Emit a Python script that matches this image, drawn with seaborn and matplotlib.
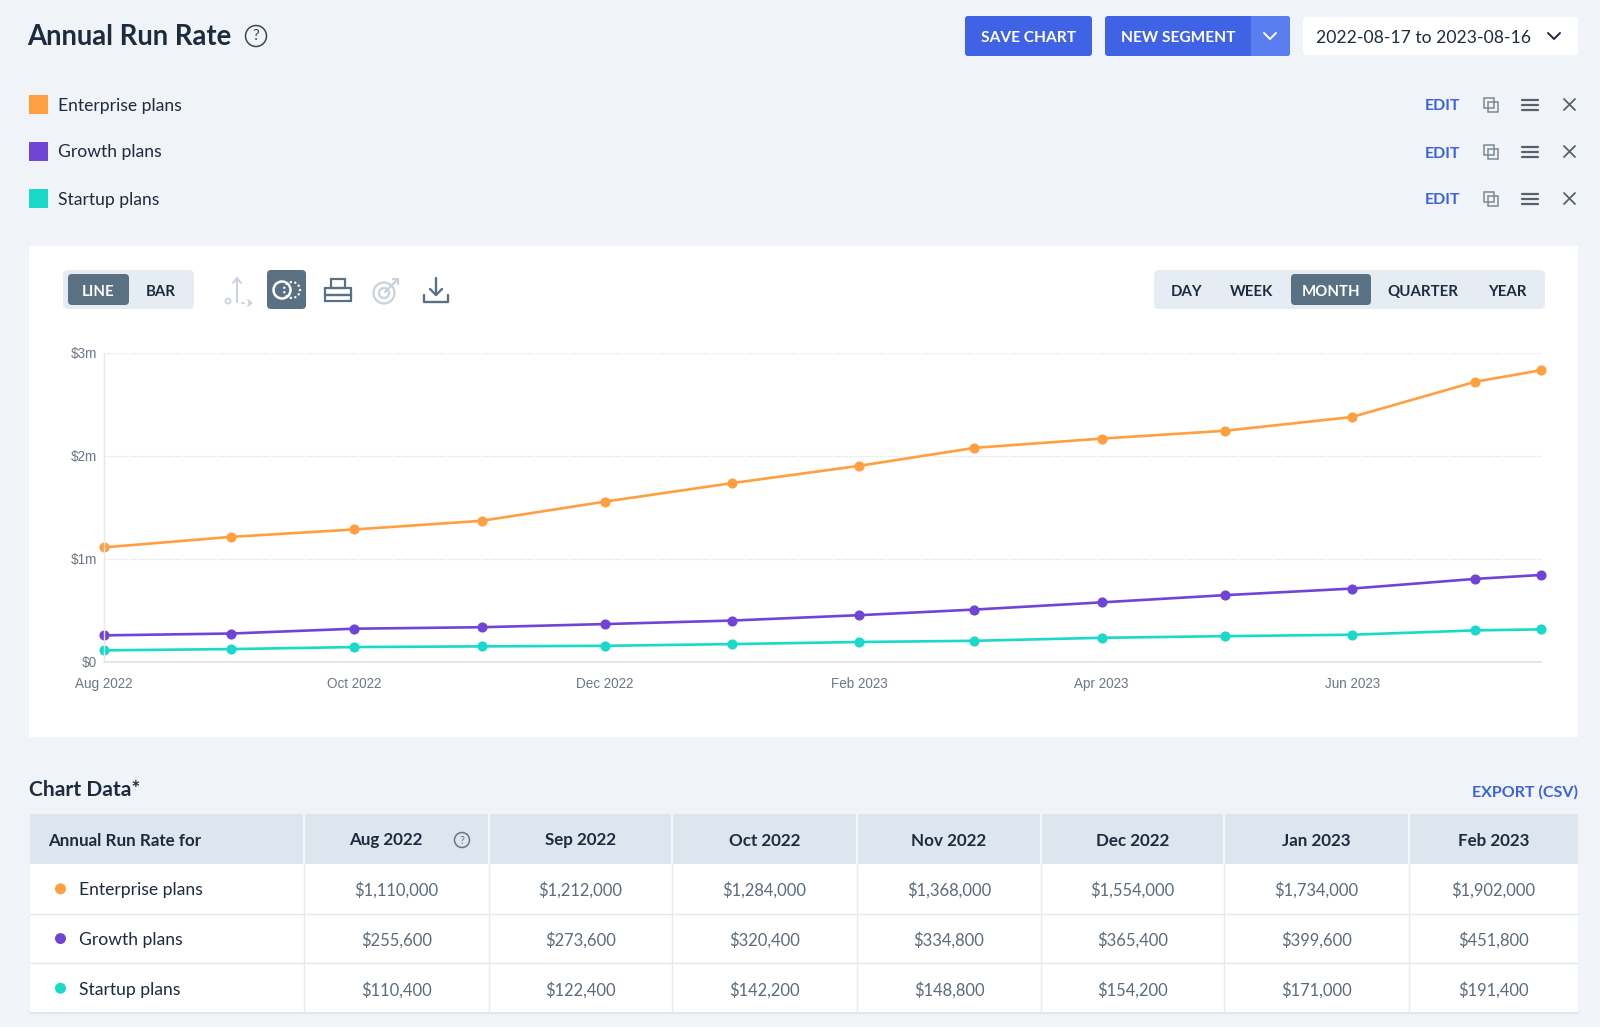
import numpy as np
import pandas as pd
import matplotlib
matplotlib.use("Agg")
import matplotlib.pyplot as plt
from matplotlib.patches import FancyBboxPatch, Rectangle, Circle
import seaborn as sns

# ---------------- data ----------------
dates = ["2022-08-01", "2022-09-01", "2022-10-01", "2022-11-01", "2022-12-01",
         "2023-01-01", "2023-02-01", "2023-03-01", "2023-04-01", "2023-05-01",
         "2023-06-01", "2023-07-01", "2023-07-17"]
enterprise = [1110000, 1212000, 1284000, 1368000, 1554000, 1734000, 1902000,
              2076000, 2166000, 2242000, 2376000, 2718000, 2830000]
growth = [255600, 273600, 320400, 334800, 365400, 399600, 451800,
          506000, 576000, 646000, 710000, 804000, 842000]
startup = [110400, 122400, 142200, 148800, 154200, 171000, 191400,
           203000, 232000, 248000, 262000, 304000, 314000]
series_names = ["Enterprise plans", "Growth plans", "Startup plans"]
series_colors = ["#FF9F40", "#7044D4", "#19D9C8"]
table_months = ["Aug 2022", "Sep 2022", "Oct 2022", "Nov 2022", "Dec 2022",
                "Jan 2023", "Feb 2023"]
y_ticks = [0, 1000000, 2000000, 3000000]
y_tick_labels = ["$0", "$1m", "$2m", "$3m"]
x_tick_dates = ["2022-08-01", "2022-10-01", "2022-12-01", "2023-02-01",
                "2023-04-01", "2023-06-01"]
x_tick_labels = ["Aug 2022", "Oct 2022", "Dec 2022", "Feb 2023", "Apr 2023", "Jun 2023"]
periods = ["DAY", "WEEK", "MONTH", "QUARTER", "YEAR"]

# ---------------- style ----------------
sns.set_theme(style="white")
UI = ["Lato", "DejaVu Sans"]
AX = ["Liberation Sans", "DejaVu Sans"]
plt.rcParams["font.family"] = UI

W, H = 1600, 1027
PX = 72 / 100.0  # px -> pt

BG = "#F0F4F8"
DARK = "#1C2B3E"
GRAY = "#5B6B7B"
SLATE = "#5A7184"
BLUE = "#3F63E4"
BLUE2 = "#5A7DF0"
LINK = "#3A63D8"
LIGHTICON = "#C9D2DB"

fig = plt.figure(figsize=(16, 10.27), dpi=100)
fig.patch.set_facecolor(BG)
bg = fig.add_axes([0, 0, 1, 1])
bg.set_xlim(0, W)
bg.set_ylim(H, 0)
bg.axis("off")
bg.set_zorder(0)


def rbox(x0, y0, x1, y1, color, r=4, ec="none", lw=0, z=1):
    p = FancyBboxPatch((x0 + r, y0 + r), (x1 - x0) - 2 * r, (y1 - y0) - 2 * r,
                       boxstyle=f"round,pad={r}", fc=color, ec=ec, lw=lw, zorder=z)
    bg.add_patch(p)


def txt(x, y, s, size, color=DARK, weight="normal", ha="left", va="center", fam=UI, z=5, dy=2):
    bg.text(x, y + dy, s, fontsize=size * PX, color=color, fontweight=weight,
            ha=ha, va=va, family=fam, zorder=z)


def help_icon(x, y, r=9, color="#3A4656"):
    bg.add_patch(Circle((x, y), r, fc="none", ec=color, lw=1.1, zorder=5))
    txt(x, y + 0.5, "?", r * 1.45, color=color, ha="center", dy=0)


# ---------------- header ----------------
txt(27, 35, "Annual Run Rate", 27.5, weight="bold")
help_icon(256, 36, r=10.5)

rbox(965, 16, 1092, 56, BLUE, r=3)
txt(1028.5, 36, "SAVE CHART", 15.5, color="white", weight="bold", ha="center")
rbox(1105, 16, 1290, 56, BLUE, r=3)
bg.add_patch(Rectangle((1251, 16), 36, 40, fc=BLUE2, ec="none", zorder=1.5))
rbox(1270, 16, 1290, 56, BLUE2, r=3, z=1.4)
txt(1178, 36, "NEW SEGMENT", 15.5, color="white", weight="bold", ha="center")
bg.plot([1264, 1270, 1276], [33, 39, 33], color="white", lw=1.4, zorder=6)
rbox(1303, 17, 1578, 55, "white", r=3)
txt(1316, 36, "2022-08-17 to 2023-08-16", 17.5)
bg.plot([1548, 1554, 1560], [33, 39, 33], color=DARK, lw=1.4, zorder=6)

# legend rows
for i, (name, col) in enumerate(zip(series_names, series_colors)):
    yc = 103.5 + i * 47
    bg.add_patch(Rectangle((28.5, yc - 8.5), 19, 19, fc=col, ec="none", zorder=3))
    txt(58, yc, name, 17.5)
    txt(1443, yc + 1, "EDIT", 16, color=LINK, weight="bold", ha="center")
    bg.add_patch(Rectangle((1484, yc - 6), 10, 10, fc="none", ec="#7C8894", lw=1.1, zorder=5))
    bg.add_patch(Rectangle((1488, yc - 2), 10, 10, fc="none", ec="#7C8894", lw=1.1, zorder=5))
    for d in (-4, 1, 6):
        bg.plot([1522, 1538], [yc + d, yc + d], color="#56616D", lw=1.6, zorder=5)
    bg.plot([1564, 1575], [yc - 4.5, yc + 6.5], color="#56616D", lw=1.3, zorder=5)
    bg.plot([1564, 1575], [yc + 6.5, yc - 4.5], color="#56616D", lw=1.3, zorder=5)

# ---------------- chart card ----------------
bg.add_patch(Rectangle((29, 246), 1549, 491, fc="white", ec="none", zorder=0.5))

# line / bar toggle
rbox(63, 270, 194, 309, "#E5ECF3", r=5)
rbox(68, 274, 129, 305, SLATE, r=4, z=2)
txt(98.5, 290, "LINE", 15, color="white", weight="bold", ha="center")
txt(161, 290, "BAR", 15, color=DARK, weight="bold", ha="center")

# axis icon (disabled)
bg.plot([237, 237], [302, 279], color=LIGHTICON, lw=1.4, zorder=5)
bg.plot([233, 237, 241], [283, 278, 283], color=LIGHTICON, lw=1.4, zorder=5)
bg.add_patch(Circle((228, 301), 2.5, fc="none", ec=LIGHTICON, lw=1.3, zorder=5))
bg.plot([241, 251], [303, 303], color=LIGHTICON, lw=1.3, ls=(0, (2, 2)), zorder=5)
bg.plot([248, 251.5, 248], [300, 303, 306], color=LIGHTICON, lw=1.3, zorder=5)

# active compare icon
rbox(267, 270, 306, 309, SLATE, r=4)
bg.add_patch(Circle((282, 290), 8.5, fc="none", ec="white", lw=1.8, zorder=6))
for ang in np.linspace(0, 2 * np.pi, 11, endpoint=False):
    bg.add_patch(Circle((292 + 8 * np.cos(ang), 290 + 8 * np.sin(ang)), 1.2,
                        fc="white", ec="none", zorder=6))

# stacked / printer icon
bg.add_patch(Rectangle((331, 279), 14, 9, fc="none", ec=SLATE, lw=1.6, zorder=5))
bg.add_patch(Rectangle((325, 288), 26, 7, fc="none", ec=SLATE, lw=1.6, zorder=5))
bg.add_patch(Rectangle((325, 295), 26, 6, fc="none", ec=SLATE, lw=1.6, zorder=5))

# target icon (disabled)
bg.add_patch(Circle((384, 293), 10.5, fc="none", ec=LIGHTICON, lw=1.6, zorder=5))
bg.add_patch(Circle((384, 293), 5, fc="none", ec=LIGHTICON, lw=1.6, zorder=5))
bg.plot([385, 396], [292, 281], color=LIGHTICON, lw=1.6, zorder=5)
bg.plot([393, 398, 398], [279, 279, 284], color=LIGHTICON, lw=1.6, zorder=5)

# download icon
bg.plot([436, 436], [278, 295], color=SLATE, lw=1.7, zorder=5)
bg.plot([430, 436, 442], [289, 295, 289], color=SLATE, lw=1.7, zorder=5)
bg.plot([424, 424, 448, 448], [295, 302, 302, 295], color=SLATE, lw=1.7, zorder=5)

# period selector
rbox(1154, 270, 1545, 309, "#E5ECF3", r=5)
rbox(1291, 274, 1371, 305, SLATE, r=4, z=2)
for lab, xc in zip(periods, [1187, 1252, 1331, 1423, 1507]):
    txt(xc, 290, lab, 15, color="white" if lab == "MONTH" else DARK,
        weight="bold", ha="center")

# ---------------- line chart (seaborn) ----------------
df = pd.DataFrame({
    "date": pd.to_datetime(dates * 3),
    "value": enterprise + growth + startup,
    "plan": sum([[n] * len(dates) for n in series_names], []),
})

ax_left, ax_right, ax_top, ax_bot = 104, 1541, 352.7, 661.7
ax = fig.add_axes([ax_left / W, 1 - ax_bot / H, (ax_right - ax_left) / W,
                   (ax_bot - ax_top) / H])
ax.set_zorder(2)
ax.set_facecolor("none")
sns.lineplot(data=df, x="date", y="value", hue="plan", hue_order=series_names,
             palette=series_colors, marker="o", markersize=7.3, markeredgewidth=0,
             linewidth=1.9, ax=ax, legend=False, clip_on=False)
ax.set_xlim(pd.to_datetime(dates[0]), pd.to_datetime(dates[-1]))
ax.set_ylim(0, 3000000)
ax.set_yticks(y_ticks)
ax.set_yticklabels(y_tick_labels, family=AX, fontsize=13.5 * PX, color="#6B7785")
ax.set_xticks(pd.to_datetime(x_tick_dates))
ax.set_xticklabels(x_tick_labels, family=AX, fontsize=13.5 * PX, color="#6B7785")
ax.tick_params(axis="y", length=0, pad=5)
ax.tick_params(axis="x", length=0, pad=11)
ax.set_xlabel("")
ax.set_ylabel("")
for y in y_ticks[1:]:
    ax.axhline(y, color="#DADDE2", lw=0.9, ls=(0, (1, 1.2)), zorder=0)
for s in ["top", "right"]:
    ax.spines[s].set_visible(False)
ax.spines["left"].set_color("#E6E9EE")
ax.spines["left"].set_linewidth(1.0)
ax.spines["bottom"].set_color("#E3E7EC")
ax.spines["bottom"].set_linewidth(1.4)
ax.grid(False)

# ---------------- chart data table ----------------
txt(29, 788, "Chart Data*", 21, weight="bold")
txt(1578, 790, "EXPORT (CSV)", 16, color=LINK, weight="bold", ha="right")

tx0, tx1 = 29.5, 1578
col_edges = [tx0, 304, 489, 672, 857, 1041, 1224, 1409, tx1]
hy0, hy1 = 814, 864
row_h = 49.7
bg.add_patch(Rectangle((tx0, hy0), tx1 - tx0, hy1 - hy0, fc="#DDE5EE", ec="none", zorder=1))
bg.add_patch(Rectangle((tx0, hy1), tx1 - tx0, row_h * 3, fc="white", ec="none", zorder=1))
for i in range(1, 3):
    yy = hy1 + i * row_h
    bg.plot([tx0, tx1], [yy, yy], color="#E4E8ED", lw=1.0, zorder=2)
bg.plot([tx0, tx1], [hy1 + 3 * row_h, hy1 + 3 * row_h], color="#DCE2E9", lw=1.2, zorder=2)
for xe in col_edges[1:-1]:
    bg.plot([xe, xe], [hy0, hy1 + 3 * row_h], color="#E7EBEF", lw=1.0, zorder=2)
    bg.plot([xe, xe], [hy0, hy1], color="#F3F6F9", lw=1.5, zorder=2)

txt(48, 838.5, "Annual Run Rate for", 17, weight="bold")
for j, m in enumerate(table_months):
    xc = (col_edges[j + 1] + col_edges[j + 2]) / 2
    if j == 0:
        txt(xc - 11, 838.5, m, 17, weight="bold", ha="center")
        help_icon(462, 840, r=7.5, color="#6A7684")
    else:
        txt(xc, 838.5, m, 17, weight="bold", ha="center")

all_series = [enterprise, growth, startup]
for i, (name, col, vals) in enumerate(zip(series_names, series_colors, all_series)):
    yc = hy1 + row_h * (i + 0.5)
    bg.add_patch(Circle((60.5, yc), 5.5, fc=col, ec="none", zorder=3))
    txt(79, yc - 0.5, name, 17.5)
    for j in range(len(table_months)):
        xc = (col_edges[j + 1] + col_edges[j + 2]) / 2
        txt(xc, yc - 0.5, f"${vals[j]:,.0f}", 16.5, color=GRAY, ha="center")

fig.savefig("out.png", dpi=100, facecolor=BG)
